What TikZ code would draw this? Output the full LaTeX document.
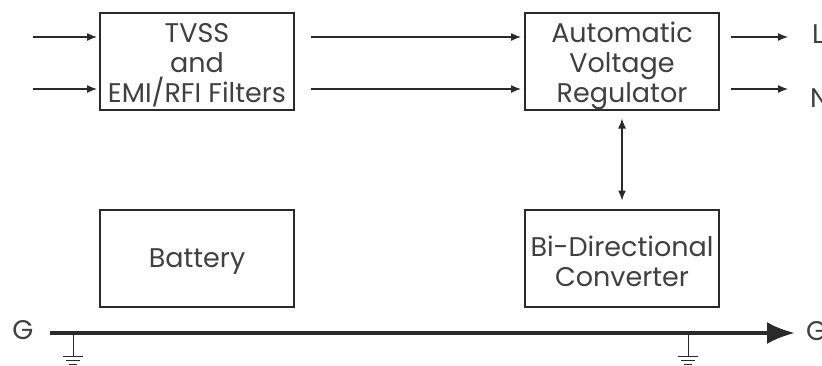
\documentclass[tikz,border=0pt]{standalone}
\usepackage{fontspec}
\setmainfont{Poppins}
\usetikzlibrary{arrows.meta}
\definecolor{txt}{HTML}{404040}
\definecolor{ln}{HTML}{2A2A2A}
\tikzset{
  blk/.style={draw=ln, line width=2pt, minimum width=194pt, minimum height=97pt,
    inner sep=0pt},
  blktxt/.style={inner sep=0pt, align=center, font=\fontsize{27}{30}\selectfont, text=txt},
  sig/.style={draw=ln, line width=1.3pt, -{Latex[length=10pt,width=8pt]}},
  bisig/.style={draw=ln, line width=1.3pt, {Latex[length=10pt,width=8pt]}-{Latex[length=10pt,width=8pt]}},
  lab/.style={font=\fontsize{27}{30}\selectfont, text=txt, inner sep=0pt},
  gnd/.style={draw=ln, line width=1pt},
}
\begin{document}
\begin{tikzpicture}[x=1pt,y=-1pt]
\useasboundingbox (0,0) rectangle (822,365);
\node[blk] (tvss) at (197,61) {};
\node[blk] (avr) at (622,61) {};
\node[blk] (bat) at (197,258) {};
\node[blk] (bdc) at (622,258) {};
\node[blktxt] (tvsst) at ([yshift=-4.5pt]tvss.center) {TVSS\\and\\EMI/RFI Filters};
\node[blktxt] (avrt) at ([yshift=-4.5pt]avr.center) {Automatic\\Voltage\\Regulator};
\node[blktxt] (batt) at ([yshift=-4pt]bat.center) {Battery};
\node[blktxt] (bdct) at ([yshift=-3.5pt]bdc.center) {Bi-Directional\\Converter};
% inputs
\coordinate (in1) at (33,37);
\coordinate (in2) at (33,89);
\draw[sig, shorten >=2pt] (in1) -- (in1 -| tvss.west);
\draw[sig, shorten >=2pt] (in2) -- (in2 -| tvss.west);
% middle
\draw[sig, shorten <=16pt, shorten >=3pt] (tvss.east |- in1) -- (avr.west |- in1);
\draw[sig, shorten <=16pt, shorten >=3pt] (tvss.east |- in2) -- (avr.west |- in2);
% outputs
\coordinate (o1) at (788,37);
\coordinate (o2) at (788,89);
\draw[sig, shorten <=11pt] (avr.east |- o1) -- (o1);
\draw[sig, shorten <=11pt] (avr.east |- o2) -- (o2);
\node[lab, anchor=west] (L) at (812,34) {L};
\node[lab, anchor=west] (N) at (810,98) {N};
% bidirectional
\draw[bisig, shorten <=8pt, shorten >=8pt] (avr.south) -- (bdc.north);
% ground bus
\node[lab] (gl) at (23,330) {G};
\node[lab, anchor=west] (gr) at (806,331) {G};
\coordinate (gs) at (50,333);
\coordinate (ge) at (795,333);
\draw[draw=ln, line width=4pt, -{Latex[length=28pt,width=22pt]}] (gs) -- (ge);
% grounds
\foreach \x/\n in {73/ga, 688/gb}{
  \coordinate (\n) at (\x,333);
  \draw[gnd] (\n) -- ++(0,23);
  \draw[gnd] ([shift={(-10,23)}]\n) -- ++(20,0);
  \draw[gnd] ([shift={(-7,27)}]\n) -- ++(14,0);
  \draw[gnd] ([shift={(-4,31)}]\n) -- ++(8,0);
}
\end{tikzpicture}
\end{document}
